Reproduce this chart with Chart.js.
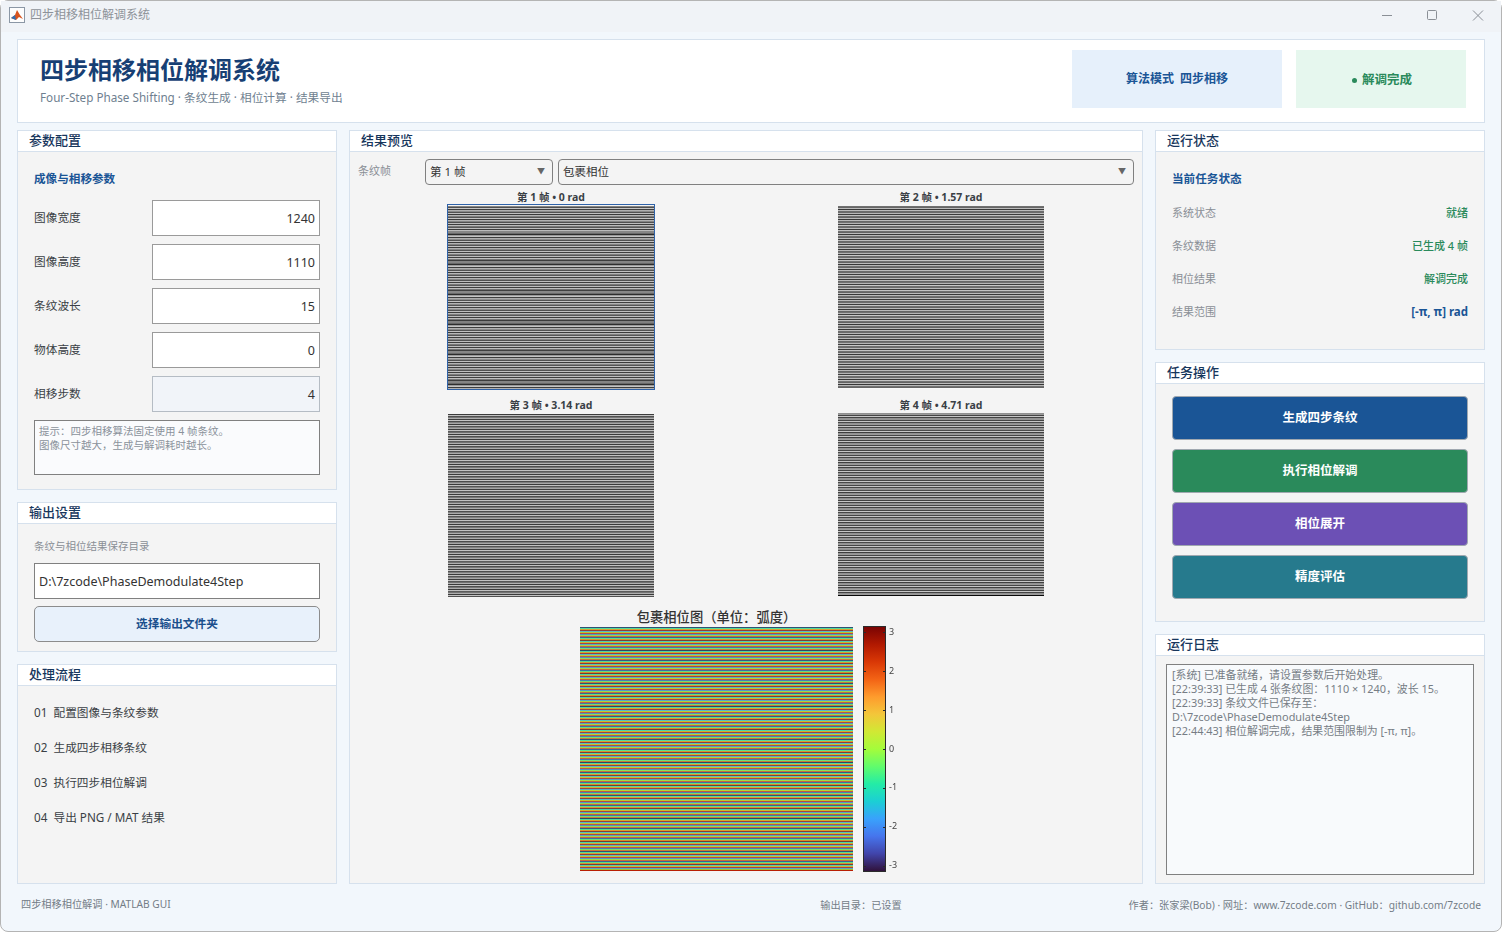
<!DOCTYPE html>
<html>
	<head>
		<meta charset="UTF-8">
		<title>四步相移相位解调系统</title>
		<script src="https://cdn.jsdelivr.net/npm/chart.js@4/dist/chart.umd.min.js"></script>
		<style type="text/css">
			html, body{ margin:0; padding:0; background:#fff; overflow:hidden; }
			body{ width:1502px; height:932px; position:relative; font-family:"Noto Sans","Noto Sans CJK SC",sans-serif; font-size:12px; color:#333; }
			div, canvas{ position:absolute; box-sizing:border-box; }
			#janela{ left:0; top:0; width:1502px; height:932px; background:#f2f7fc; border:1px solid #b4b4b4; border-radius:8px; overflow:hidden; }
			#barra{ left:0; top:0; width:1500px; height:31px; background:#f0f3f7; }
			.t{ white-space:nowrap; line-height:20px; height:20px; }
			.painel{ background:#f4f4f4; border:1px solid #d6e1ed; }
			.faixa{ left:0; top:0; right:0; height:21px; background:#fff; border-bottom:1px solid #d6e1ed; }
			.pt{ font-size:13px; font-weight:500; color:#17365c; }
			.sec{ font-size:11.6px; font-weight:700; color:#1a5596; }
			.lab{ color:#3a3f45; font-size:11.7px; }
			.cinza{ color:#8a8f96; font-size:11px; }
			.campo{ left:152px; width:168px; height:36px; background:#fff; border:1px solid #9a9a9a; }
			.num{ right:1187px; text-align:right; font-size:12.5px; }
			.cmb{ height:26px; top:159px; border:1px solid #808080; border-radius:4px; }
			.seta{ font-size:8px; color:#666; }
			.btn{ left:1172px; width:296px; height:44px; border-radius:4px; border:1px solid #a0a8b0; color:#fff; font-weight:700; font-size:12.5px; text-align:center; line-height:42px; }
			.ft{ font-weight:700; font-size:10.5px; color:#3a3f45; text-align:center; width:208px; }
			.val{ right:34px; text-align:right; font-weight:500; font-size:11px; color:#2a8a5b; }
			.rod{ font-size:10.2px; color:#747d87; }
		</style>
	</head>
	<body>
		<div id="janela"></div>
		<div id="barra" style="left:1px;top:1px"></div>
		<svg style="position:absolute;left:9px;top:7px" width="16" height="16"><rect x="0.5" y="0.5" width="15" height="15" fill="#fdfdfd" stroke="#8b97a5"/><path d="M2 11 L6 8 L8 3 L11 8 L14 12 L10 10 L7 13 Z" fill="#d9541e"/><path d="M2 11 L6 8 L7 13 Z" fill="#2d6fb5"/></svg>
		<div class="t" style="left:30px;top:5px;color:#8d9299;font-size:12px">四步相移相位解调系统</div>
		<svg style="position:absolute;left:1380px;top:8px" width="110" height="16" stroke="#8a8f96" fill="none"><path d="M2 7.5 H12"/><rect x="47.5" y="2.5" width="9" height="9" rx="1"/><path d="M93 2.5 L103 12.5 M103 2.5 L93 12.5"/></svg>

		<!-- cabecalho -->
		<div style="left:17px;top:39px;width:1468px;height:84px;background:#fff;border:1px solid #d6e1ed"></div>
		<div class="t" style="left:40px;top:54px;font-size:24px;font-weight:700;color:#173f74;line-height:32px;height:32px">四步相移相位解调系统</div>
		<div class="t" style="left:40px;top:87px;color:#6f7f90;font-size:11.7px">Four-Step Phase Shifting · 条纹生成 · 相位计算 · 结果导出</div>
		<div style="left:1072px;top:50px;width:210px;height:58px;background:#e6f0fb"></div>
		<div class="t sec" style="left:1072px;top:69px;width:210px;text-align:center;font-size:12px">算法模式&nbsp; 四步相移</div>
		<div style="left:1296px;top:50px;width:170px;height:58px;background:#e6f7ee"></div>
		<div style="left:1352px;top:78px;width:5px;height:5px;border-radius:50%;background:#2a8a5b"></div>
		<div class="t" style="left:1362px;top:70px;font-weight:700;font-size:12.5px;color:#2a8a5b">解调完成</div>

		<!-- parametros -->
		<div class="painel" style="left:17px;top:130px;width:320px;height:360px"><div class="faixa"></div></div>
		<div class="t pt" style="left:29px;top:130px">参数配置</div>
		<div class="t sec" style="left:34px;top:169px">成像与相移参数</div>
		<div class="t lab" style="left:34px;top:207px">图像宽度</div><div class="campo" style="top:200px"></div><div class="t num" style="top:209px">1240</div>
		<div class="t lab" style="left:34px;top:251px">图像高度</div><div class="campo" style="top:244px"></div><div class="t num" style="top:253px">1110</div>
		<div class="t lab" style="left:34px;top:295px">条纹波长</div><div class="campo" style="top:288px"></div><div class="t num" style="top:297px">15</div>
		<div class="t lab" style="left:34px;top:339px">物体高度</div><div class="campo" style="top:332px"></div><div class="t num" style="top:341px">0</div>
		<div class="t lab" style="left:34px;top:383px">相移步数</div><div class="campo" style="top:376px;background:#f1f4f9;border-color:#b5bcc4"></div><div class="t num" style="top:385px">4</div>
		<div style="left:34px;top:420px;width:286px;height:55px;background:#fafbfd;border:1px solid #808080"></div>
		<div class="t" style="left:39px;top:424px;font-size:10.5px;color:#8a929b;line-height:14px">提示：四步相移算法固定使用 4 帧条纹。<br>图像尺寸越大，生成与解调耗时越长。</div>

		<!-- saida -->
		<div class="painel" style="left:17px;top:502px;width:320px;height:150px"><div class="faixa"></div></div>
		<div class="t pt" style="left:29px;top:502px">输出设置</div>
		<div class="t cinza" style="left:34px;top:536px;font-size:10.5px">条纹与相位结果保存目录</div>
		<div style="left:34px;top:563px;width:286px;height:36px;background:#fff;border:1px solid #808080"></div>
		<div class="t" style="left:39px;top:572px;font-size:12.5px">D:\7zcode\PhaseDemodulate4Step</div>
		<div style="left:34px;top:606px;width:286px;height:36px;background:#e8f1fb;border:1px solid #8c8c8c;border-radius:5px"></div>
		<div class="t" style="left:34px;top:613px;width:286px;text-align:center;font-weight:700;color:#1a4f8c;font-size:11.7px">选择输出文件夹</div>

		<!-- fluxo -->
		<div class="painel" style="left:17px;top:664px;width:320px;height:220px"><div class="faixa"></div></div>
		<div class="t pt" style="left:29px;top:664px">处理流程</div>
		<div class="t lab" style="left:34px;top:702px">01&nbsp; 配置图像与条纹参数</div>
		<div class="t lab" style="left:34px;top:737px">02&nbsp; 生成四步相移条纹</div>
		<div class="t lab" style="left:34px;top:772px">03&nbsp; 执行四步相位解调</div>
		<div class="t lab" style="left:34px;top:807px">04&nbsp; 导出 PNG / MAT 结果</div>

		<!-- centro -->
		<div class="painel" style="left:349px;top:130px;width:794px;height:754px"><div class="faixa"></div></div>
		<div class="t pt" style="left:361px;top:130px">结果预览</div>
		<div class="t cinza" style="left:358px;top:161px">条纹帧</div>
		<div class="cmb" style="left:425px;width:128px"></div>
		<div class="t" style="left:430px;top:162px;font-size:11.5px">第 1 帧</div>
		<div class="t seta" style="left:537px;top:161px">▼</div>
		<div class="cmb" style="left:558px;width:576px"></div>
		<div class="t" style="left:563px;top:162px;font-size:11.5px">包裹相位</div>
		<div class="t seta" style="left:1118px;top:161px">▼</div>

		<div class="t ft" style="left:447px;top:187px">第 1 帧 • 0 rad</div>
		<div style="left:447px;top:204px;width:208px;height:186px;border:1px solid #2f62a8"></div>
		<canvas id="g1" width="206" height="183" style="left:448px;top:206px"></canvas>
		<div class="t ft" style="left:837px;top:187px">第 2 帧 • 1.57 rad</div>
		<canvas id="g2" width="206" height="183" style="left:838px;top:206px"></canvas>
		<div class="t ft" style="left:447px;top:395px">第 3 帧 • 3.14 rad</div>
		<canvas id="g3" width="206" height="183" style="left:448px;top:414px"></canvas>
		<div class="t ft" style="left:837px;top:395px">第 4 帧 • 4.71 rad</div>
		<canvas id="g4" width="206" height="183" style="left:838px;top:413px"></canvas>

		<div class="t" style="left:580px;top:607px;width:273px;text-align:center;font-size:13.3px;font-weight:500;color:#333">包裹相位图（单位：弧度）</div>
		<canvas id="fase" width="273" height="244" style="left:580px;top:627px"></canvas>
		<canvas id="barra-cor" width="50" height="260" style="left:860px;top:620px"></canvas>

		<!-- estado -->
		<div class="painel" style="left:1155px;top:130px;width:330px;height:220px"><div class="faixa"></div></div>
		<div class="t pt" style="left:1167px;top:130px">运行状态</div>
		<div class="t sec" style="left:1172px;top:169px">当前任务状态</div>
		<div class="t cinza" style="left:1172px;top:203px">系统状态</div><div class="t val" style="top:203px">就绪</div>
		<div class="t cinza" style="left:1172px;top:236px">条纹数据</div><div class="t val" style="top:236px">已生成 4 帧</div>
		<div class="t cinza" style="left:1172px;top:269px">相位结果</div><div class="t val" style="top:269px">解调完成</div>
		<div class="t cinza" style="left:1172px;top:302px">结果范围</div><div class="t val" style="top:302px;color:#1a5596;font-weight:700;font-size:11.5px">[-π, π] rad</div>

		<!-- tarefas -->
		<div class="painel" style="left:1155px;top:362px;width:330px;height:260px"><div class="faixa"></div></div>
		<div class="t pt" style="left:1167px;top:362px">任务操作</div>
		<div class="btn" style="top:396px;background:#1a5596">生成四步条纹</div>
		<div class="btn" style="top:449px;background:#2a8a5b">执行相位解调</div>
		<div class="btn" style="top:502px;background:#6c50b5">相位展开</div>
		<div class="btn" style="top:555px;background:#267a8d">精度评估</div>

		<!-- log -->
		<div class="painel" style="left:1155px;top:634px;width:330px;height:250px"><div class="faixa"></div></div>
		<div class="t pt" style="left:1167px;top:634px">运行日志</div>
		<div style="left:1166px;top:664px;width:308px;height:211px;background:#f8fafc;border:1px solid #808080"></div>
		<div class="t" style="left:1172px;top:668px;font-size:10.9px;line-height:14px;color:#767d85">[系统] 已准备就绪，请设置参数后开始处理。<br>[22:39:33] 已生成 4 张条纹图：1110 × 1240，波长 15。<br>[22:39:33] 条纹文件已保存至：<br>D:\7zcode\PhaseDemodulate4Step<br>[22:44:43] 相位解调完成，结果范围限制为 [-π, π]。</div>

		<!-- rodape -->
		<div class="t rod" style="left:21px;top:894px">四步相移相位解调 · MATLAB GUI</div>
		<div class="t rod" style="left:761px;top:895px;width:200px;text-align:center">输出目录：已设置</div>
		<div class="t rod" style="right:21px;top:895px">作者：张家梁(Bob) · 网址：www.7zcode.com · GitHub：github.com/7zcode</div>

		<script type="text/javascript">
			var larguraImagem = 1240;

			// tons de cinza por linha exibida, estimados a olho
			var quadro1 = [
				170,20,255,25,176, 176,25,254,14,190, 160,30,255,20,180, 170,25,250,15,200, 150,35,250,12,205, 135,135,135,20,120,
				255,25,176,176,25, 254,18,185,165,28, 255,22,178,172,25, 250,16,195,155,33, 248,12,205,145,38, 132,132,132,22,120,
				255,25,176,176,25, 254,14,190,160,30, 255,20,180,170,25, 250,15,200,150,35, 250,12,205,140,40, 135,135,135,20,120,
				255,28,170,180,25, 254,20,182,168,28, 255,25,176,176,25, 250,18,192,158,32, 250,14,200,148,36, 128,128,128,20,120,
				255,25,176,176,25, 254,14,190,160,30, 255,20,180,170,25, 250,15,200,150,35, 250,12,205,140,40, 135,135,135,20,120,
				255,25,176,176,25, 254,18,185,165,28, 255,22,178,172,25, 250,16,195,155,33, 248,12,205,145,38, 132,132,132,22,120,
				255,25,176
			];
			var quadro2 = [
				132,53,248,5,210, 125,60,245,8,215, 132,53,248,5,210, 115,68,241,5,223, 128,60,248,3,215, 132,50,250,5,205,
				132,53,248,5,210, 120,62,245,6,218, 132,53,248,5,210, 112,70,240,5,225, 128,60,248,3,215, 136,48,250,6,202,
				132,53,248,5,210, 125,60,245,8,215, 132,53,248,5,210, 115,68,241,5,223, 128,60,248,3,215, 132,50,250,5,205,
				132,53,248,5,210, 120,62,245,6,218, 132,53,248,5,210, 112,70,240,5,225, 128,60,248,3,215, 136,48,250,6,202,
				132,53,248,5,210, 125,60,245,8,215, 132,53,248,5,210, 115,68,241,5,223, 128,60,248,3,215, 132,50,250,5,205,
				132,53,248,5,210, 120,62,245,6,218, 132,53,248,5,210, 112,70,240,5,225, 128,60,248,3,215, 136,48,250,6,202,
				132,53,248
			];
			var quadro3 = [
				1,233,82,82,233, 2,240,70,95,225, 1,233,82,99,222, 6,228,95,70,240, 1,233,82,82,233, 2,225,99,75,235,
				1,233,82,82,233, 3,238,74,92,228, 1,233,82,96,224, 5,230,92,72,238, 1,233,82,82,233, 2,226,97,76,233,
				1,233,82,82,233, 2,240,70,95,225, 1,233,82,99,222, 6,228,95,70,240, 1,233,82,82,233, 2,225,99,75,235,
				1,233,82,82,233, 3,238,74,92,228, 1,233,82,96,224, 5,230,92,72,238, 1,233,82,82,233, 2,226,97,76,233,
				1,233,82,82,233, 2,240,70,95,225, 1,233,82,99,222, 6,228,95,70,240, 1,233,82,82,233, 2,225,99,75,235,
				1,233,82,82,233, 3,238,74,92,228, 1,233,82,96,224, 5,230,92,72,238, 1,233,82,82,233, 2,226,97,76,233,
				1,233,82
			];
			var quadro4 = [
				124,203,8,251,46, 130,195,10,248,55, 124,203,8,251,46, 140,190,15,253,40, 124,203,8,251,46, 118,210,5,250,50,
				124,203,8,251,46, 128,198,9,249,52, 124,203,8,251,46, 136,192,13,252,43, 124,203,8,251,46, 120,208,6,250,48,
				124,203,8,251,46, 130,195,10,248,55, 124,203,8,251,46, 140,190,15,253,40, 124,203,8,251,46, 118,210,5,250,50,
				124,203,8,251,46, 128,198,9,249,52, 124,203,8,251,46, 136,192,13,252,43, 124,203,8,251,46, 120,208,6,250,48,
				124,203,8,251,46, 130,195,10,248,55, 124,203,8,251,46, 140,190,15,253,40, 124,203,8,251,46, 118,210,5,250,50,
				124,203,8,251,46, 128,198,9,249,52, 124,203,8,251,46, 136,192,13,252,43, 124,203,8,251,46, 120,208,6,250,48,
				124,203,8
			];

			// fase por linha exibida (rad)
			var faseLinhas = [
				-3.0,-1.1,.8,2.7,-1.7,.2,2.2,-2.2,-.3,1.6,-2.8,-.9,1.0,2.9,-1.4,.5,2.4,-2.0,-.1,1.8,-2.6,-.7,1.3,-3.1,-1.2,.7,2.6,-1.8,.1,2.0,-2.3,-.4,1.5,-2.9,-1.0,.9,2.8,-1.6,.4,2.3,-2.1,-.2,1.7,-2.7,-.8,1.1,3.0,-1.3,.6,2.5,-1.9,0,1.9,-2.5,-.6,1.4,
				-3.0,-1.1,.8,2.7,-1.7,.2,2.2,-2.2,-.3,1.6,-2.8,-.9,1.0,2.9,-1.4,.5,2.4,-2.0,-.1,1.8,-2.6,-.7,1.3,-3.1,-1.2,.7,2.6,-1.8,.1,2.0,-2.3,-.4,1.5,-2.9,-1.0,.9,2.8,-1.6,.4,2.3,-2.1,-.2,1.7,-2.7,-.8,1.1,3.0,-1.3,.6,2.5,-1.9,0,1.9,-2.5,-.6,1.4,
				-3.0,-1.1,.8,2.7,-1.7,.2,2.2,-2.2,-.3,1.6,-2.8,-.9,1.0,2.9,-1.4,.5,2.4,-2.0,-.1,1.8,-2.6,-.7,1.3,-3.1,-1.2,.7,2.6,-1.8,.1,2.0,-2.3,-.4,1.5,-2.9,-1.0,.9,2.8,-1.6,.4,2.3,-2.1,-.2,1.7,-2.7,-.8,1.1,3.0,-1.3,.6,2.5,-1.9,0,1.9,-2.5,-.6,1.4,
				-3.0,-1.1,.8,2.7,-1.7,.2,2.2,-2.2,-.3,1.6,-2.8,-.9,1.0,2.9,-1.4,.5,2.4,-2.0,-.1,1.8,-2.6,-.7,1.3,-3.1,-1.2,.7,2.6,-1.8,.1,2.0,-2.3,-.4,1.5,-2.9,-1.0,.9,2.8,-1.6,.4,2.3,-2.1,-.2,1.7,-2.7,-.8,1.1,3.0,-1.3,.6,2.5,-1.9,0,1.9,-2.5,-.6,1.4,
				-3.0,-1.1,.8,2.7,-1.7,.2,2.2,-2.2,-.3,1.6,-2.8,-.9,1.0,2.9,-1.4,.5,2.4,-2.0,-.1,2.6
			];

			// mapa de cores da barra
			var coresFase = ["#30123b","#4145ab","#4675ed","#39a2fc","#1bcfd4","#24eca6","#61fc6c","#a4fc3b","#d1e834","#f3c63a","#fe9b2d","#f36315","#d93806","#b11901","#7a0403"];
			var ticksBarra = [-3,-2,-1,0,1,2,3];
			var faseMin = -Math.PI;
			var faseMax = Math.PI;

			function hexRgb(h){
				return [parseInt(h.substr(1,2),16), parseInt(h.substr(3,2),16), parseInt(h.substr(5,2),16)];
			}

			function corDaFase(v){
				var p = (v - faseMin) / (faseMax - faseMin) * (coresFase.length - 1);
				p = Math.max(0, Math.min(coresFase.length - 1.001, p));
				var i = Math.floor(p), f = p - i;
				var a = hexRgb(coresFase[i]), b = hexRgb(coresFase[i+1]);
				return "rgb(" + Math.round(a[0]+(b[0]-a[0])*f) + "," + Math.round(a[1]+(b[1]-a[1])*f) + "," + Math.round(a[2]+(b[2]-a[2])*f) + ")";
			}

			function corCinza(v){
				return "rgb(" + v + "," + v + "," + v + ")";
			}

			// cada linha da imagem vira uma barra horizontal
			function listras(id, linhas, cor){
				return new Chart(document.getElementById(id), {
					type: 'bar',
					data: {
						labels: linhas.map(function(v, i){ return i; }),
						datasets: [{
							data: linhas.map(function(){ return [0, larguraImagem]; }),
							backgroundColor: linhas.map(cor),
							barPercentage: 1,
							categoryPercentage: 1,
							borderWidth: 0
						}]
					},
					options: {
						indexAxis: 'y',
						responsive: false,
						devicePixelRatio: 1,
						animation: false,
						layout: { padding: 0 },
						plugins: { legend: { display: false }, tooltip: { enabled: false } },
						scales: {
							x: { display: false, min: 0, max: larguraImagem },
							y: { display: false }
						}
					}
				});
			}

			listras("g1", quadro1, corCinza);
			listras("g2", quadro2, corCinza);
			listras("g3", quadro3, corCinza);
			listras("g4", quadro4, corCinza);
			listras("fase", faseLinhas, corDaFase);

			var molduraBarra = {
				id: 'molduraBarra',
				afterDatasetsDraw: function(chart){
					var a = chart.chartArea, c = chart.ctx, y = chart.scales.y;
					c.save();
					c.strokeStyle = "#2b2b2b";
					c.lineWidth = 1;
					c.strokeRect(a.left - 0.5, a.top - 0.5, a.right - a.left + 1, a.bottom - a.top + 1);
					y.ticks.forEach(function(t){
						var py = Math.round(y.getPixelForValue(t.value)) + 0.5;
						c.beginPath();
						c.moveTo(a.right - 2, py);
						c.lineTo(a.right, py);
						c.moveTo(a.left, py);
						c.lineTo(a.left + 2, py);
						c.stroke();
					});
					c.restore();
				}
			};

			new Chart(document.getElementById("barra-cor"), {
				type: 'bar',
				data: {
					labels: ["fase"],
					datasets: [{
						data: [[faseMin, faseMax]],
						barPercentage: 1,
						categoryPercentage: 1,
						borderWidth: 0,
						backgroundColor: function(ctx){
							var a = ctx.chart.chartArea;
							if(!a) return coresFase[0];
							var g = ctx.chart.ctx.createLinearGradient(0, a.bottom, 0, a.top);
							coresFase.forEach(function(c, i){ g.addColorStop(i / (coresFase.length - 1), c); });
							return g;
						}
					}]
				},
				options: {
					responsive: false,
					devicePixelRatio: 1,
					animation: false,
					layout: { padding: { left: 4, right: 0, top: 7, bottom: 9 } },
					plugins: { legend: { display: false }, tooltip: { enabled: false } },
					scales: {
						x: { display: false },
						y: {
							position: 'right',
							min: faseMin,
							max: faseMax,
							afterBuildTicks: function(s){ s.ticks = ticksBarra.map(function(v){ return { value: v }; }); },
							afterFit: function(s){ s.width = 25; s.paddingTop = 0; s.paddingBottom = 0; },
							grid: { display: false, drawTicks: false },
							border: { display: false },
							ticks: { padding: 4, font: { family: "Noto Sans", size: 9 }, color: "#444" }
						}
					}
				},
				plugins: [molduraBarra]
			});
		</script>
	</body>
</html>
